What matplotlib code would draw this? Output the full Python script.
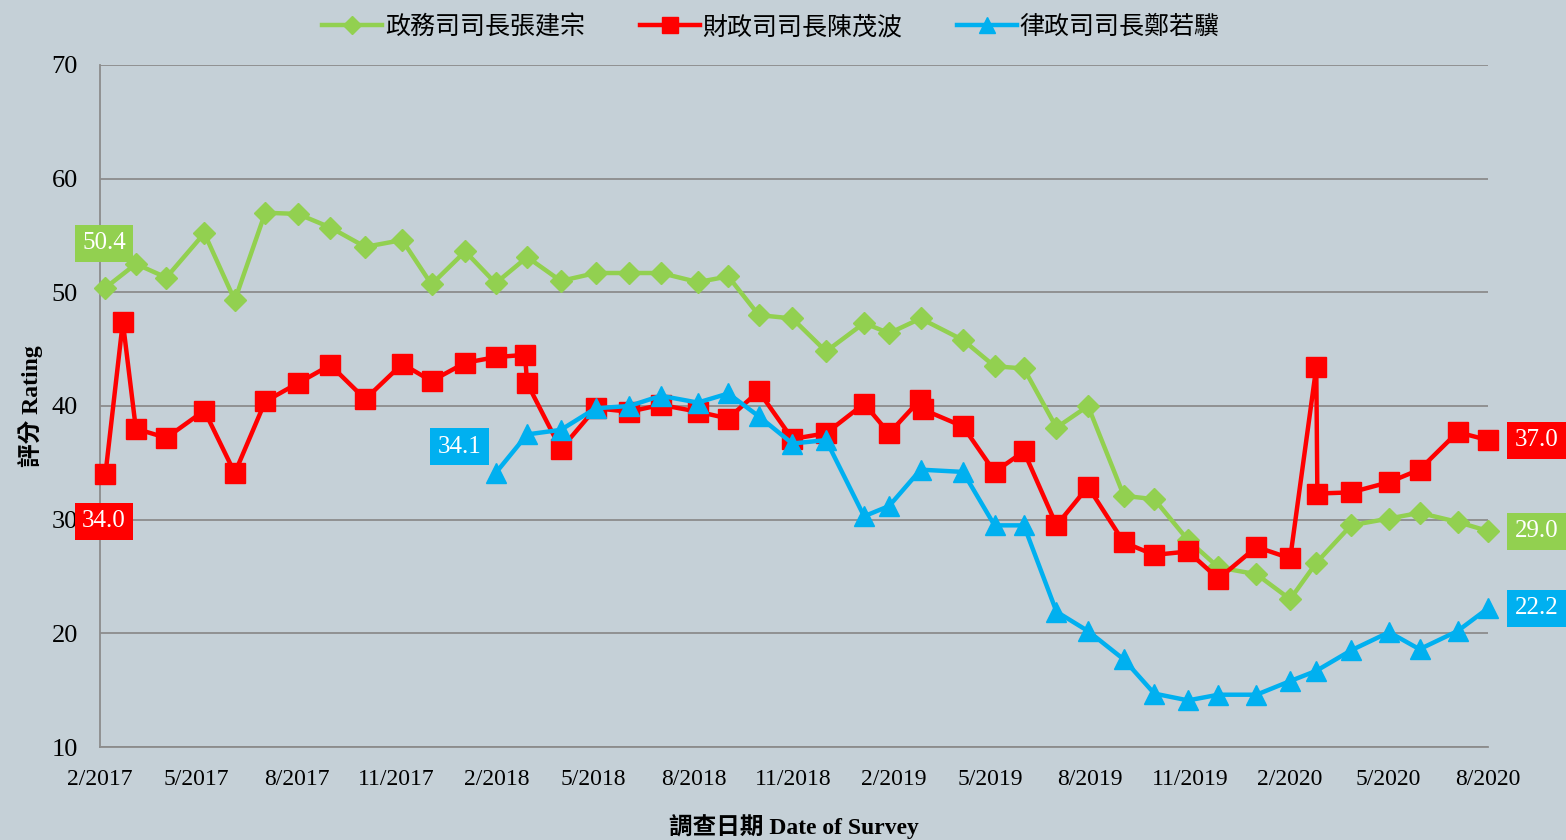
import numpy as np
import pandas as pd
import matplotlib
matplotlib.use('Agg')
import matplotlib.pyplot as plt
import matplotlib.dates as mdates
from matplotlib.ticker import FuncFormatter

# 數據
cs_dates = ['2017-02-06', '2017-03-06', '2017-04-03', '2017-05-08', '2017-06-05', '2017-07-03',
            '2017-08-02', '2017-09-01', '2017-10-03', '2017-11-06', '2017-12-03', '2018-01-03',
            '2018-01-31', '2018-03-01', '2018-04-01', '2018-05-03', '2018-06-03', '2018-07-02',
            '2018-08-05', '2018-09-02', '2018-09-30', '2018-10-31', '2018-12-01', '2019-01-05',
            '2019-01-28', '2019-02-26', '2019-04-06', '2019-05-05', '2019-06-01', '2019-07-01',
            '2019-07-30', '2019-09-01', '2019-09-29', '2019-10-30', '2019-11-27', '2020-01-01',
            '2020-02-01', '2020-02-25', '2020-03-28', '2020-05-02', '2020-05-30', '2020-07-04',
            '2020-08-01']
cs_vals = [50.4, 52.5, 51.3, 55.2, 49.3, 57.0, 56.9, 55.7, 54.0, 54.6, 50.7, 53.6,
           50.8, 53.1, 51.0, 51.7, 51.7, 51.7, 50.9, 51.4, 48.0, 47.7, 44.8, 47.3,
           46.4, 47.7, 45.8, 43.5, 43.3, 38.1, 40.0, 32.1, 31.8, 28.2, 25.8, 25.2,
           23.0, 26.2, 29.5, 30.1, 30.6, 29.8, 29.0]

fs_dates = ['2017-02-06', '2017-02-22', '2017-03-06', '2017-04-03', '2017-05-08', '2017-06-05',
            '2017-07-03', '2017-08-02', '2017-09-01', '2017-10-03', '2017-11-06', '2017-12-03',
            '2018-01-03', '2018-01-31', '2018-02-27', '2018-03-01', '2018-04-01', '2018-05-03',
            '2018-06-03', '2018-07-02', '2018-08-05', '2018-09-02', '2018-09-30', '2018-10-31',
            '2018-12-01', '2019-01-05', '2019-01-28', '2019-02-25', '2019-02-28', '2019-04-06',
            '2019-05-05', '2019-06-01', '2019-07-01', '2019-07-30', '2019-09-01', '2019-09-29',
            '2019-10-30', '2019-11-27', '2020-01-01', '2020-02-01', '2020-02-25', '2020-02-26',
            '2020-03-28', '2020-05-02', '2020-05-30', '2020-07-04', '2020-08-01']
fs_vals = [34.0, 47.4, 38.0, 37.2, 39.6, 34.1, 40.4, 42.0, 43.6, 40.6, 43.7, 42.2,
           43.8, 44.3, 44.5, 42.0, 36.2, 39.8, 39.5, 40.1, 39.5, 38.9, 41.3, 37.1,
           37.6, 40.2, 37.6, 40.5, 39.7, 38.2, 34.2, 36.0, 29.5, 32.9, 28.0, 26.9,
           27.2, 24.8, 27.6, 26.6, 43.4, 32.3, 32.4, 33.3, 34.4, 37.7, 37.0]

sj_dates = ['2018-01-31', '2018-03-01', '2018-04-01', '2018-05-03', '2018-06-03', '2018-07-02',
            '2018-08-05', '2018-09-02', '2018-09-30', '2018-10-31', '2018-12-01', '2019-01-05',
            '2019-01-28', '2019-02-26', '2019-04-06', '2019-05-05', '2019-06-01', '2019-07-01',
            '2019-07-30', '2019-09-01', '2019-09-29', '2019-10-30', '2019-11-27', '2020-01-01',
            '2020-02-01', '2020-02-25', '2020-03-28', '2020-05-02', '2020-05-30', '2020-07-04',
            '2020-08-01']
sj_vals = [34.1, 37.5, 37.9, 39.8, 40.0, 40.9, 40.3, 41.1, 39.1, 36.7, 37.0, 30.3,
           31.2, 34.4, 34.2, 29.5, 29.5, 21.9, 20.2, 17.7, 14.7, 14.1, 14.6, 14.6,
           15.8, 16.7, 18.5, 20.1, 18.6, 20.2, 22.2]

names = ['政務司司長張建宗', '財政司司長陳茂波', '律政司司長鄭若驥']
tick_dates = pd.date_range('2017-02-01', '2020-08-01', freq='3MS')

GREEN = '#92D050'
RED = '#FF0000'
BLUE = '#00B0F0'
BG = '#C5D0D7'

plt.rcParams['font.family'] = ['Liberation Serif', 'Noto Sans CJK TC', 'DejaVu Sans']

fig = plt.figure(figsize=(15.66, 8.4), dpi=100, facecolor=BG)
ax = fig.add_axes([100 / 1566, 1 - 747 / 840, 1388 / 1566, 682 / 840])
ax.set_facecolor(BG)

l1, = ax.plot(pd.to_datetime(cs_dates), cs_vals, color=GREEN, lw=3.2, marker='D', ms=11, zorder=3, clip_on=False)
l2, = ax.plot(pd.to_datetime(fs_dates), fs_vals, color=RED, lw=3.2, marker='s', ms=14, zorder=4, clip_on=False)
l3, = ax.plot(pd.to_datetime(sj_dates), sj_vals, color=BLUE, lw=3.2, marker='^', ms=14, zorder=5, clip_on=False)

ax.set_ylim(10, 70)
ax.set_yticks(range(10, 71, 10))
ax.set_xlim(pd.Timestamp('2017-02-01'), pd.Timestamp('2020-08-01'))
ax.set_xticks(tick_dates)
ax.xaxis.set_major_formatter(FuncFormatter(lambda v, p: f"{mdates.num2date(v).month}/{mdates.num2date(v).year}"))
ax.grid(axis='y', color='#8C8C8C', lw=1.3)
ax.set_axisbelow(True)
for s in ['top', 'right']:
    ax.spines[s].set_visible(False)
for s in ['left', 'bottom']:
    ax.spines[s].set_color('#8C8C8C')
    ax.spines[s].set_linewidth(1.3)
ax.tick_params(axis='y', length=0, pad=16, labelsize=19)
ax.tick_params(axis='x', length=0, pad=16, labelsize=17)

ax.set_ylabel('評分 Rating', fontsize=17, fontweight='bold', labelpad=6)
ax.set_xlabel('調查日期 Date of Survey', fontsize=17, fontweight='bold', labelpad=17)

# 數據標籤
def tag(d, v, txt, col, dx, dy):
    ax.annotate(txt, xy=(pd.Timestamp(d), v), xytext=(dx, dy), textcoords='offset points',
                ha='center', va='center', color='white', fontsize=18,
                bbox=dict(boxstyle='square,pad=0.3', fc=col, ec='none'),
                annotation_clip=False, zorder=6)

tag(cs_dates[0], cs_vals[0], '50.4', GREEN, -1, 32)
tag(fs_dates[0], fs_vals[0], '34.0', RED, -1, -34)
tag(sj_dates[0], sj_vals[0], '34.1', BLUE, -26, 19)
tag(fs_dates[-1], fs_vals[-1], '37.0', RED, 35, 0)
tag(cs_dates[-1], cs_vals[-1], '29.0', GREEN, 35, 0)
tag(sj_dates[-1], sj_vals[-1], '22.2', BLUE, 35, 0)

fig.legend([l1, l2, l3], names, loc='upper center', bbox_to_anchor=(771 / 1566, 1.01),
           ncol=3, frameon=False, handlelength=2.4, columnspacing=2.2, markerscale=0.8,
           handletextpad=0.1, prop={'family': ['Noto Sans CJK TC'], 'size': 18})

fig.savefig('out.png', dpi=100, facecolor=BG)
